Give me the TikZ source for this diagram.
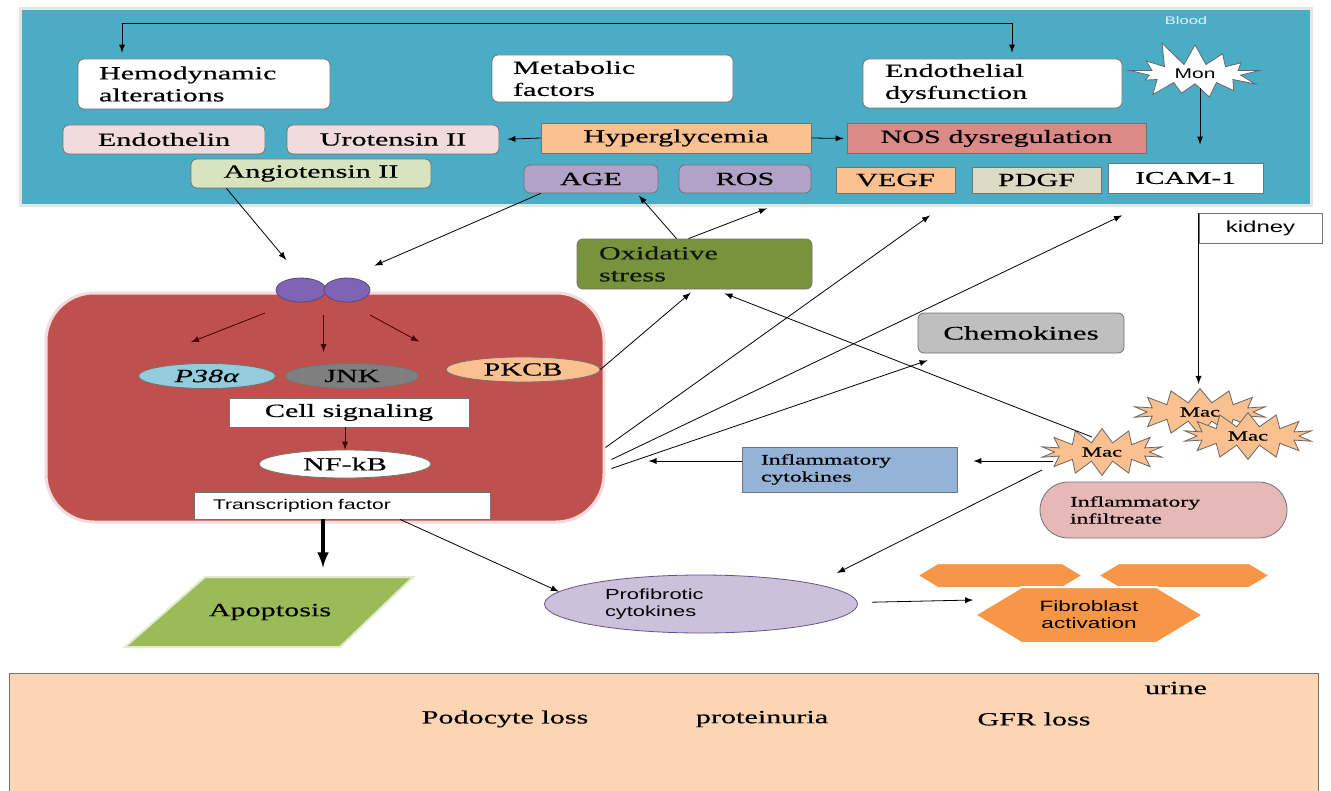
\documentclass[tikz,border=0pt]{standalone}
\usepackage{fontspec}
\setmainfont[FakeStretch=1.62, FakeBold=0.5]{Liberation Serif}
\setsansfont[FakeStretch=1.5]{Liberation Sans}
\usepackage{tikz}
\usetikzlibrary{arrows, shapes.geometric, shapes.symbols, calc, positioning}
\definecolor{bloodBlue}{HTML}{4BACC6}
\definecolor{cellRed}{HTML}{C0504D}
\definecolor{endoPink}{HTML}{F2DCDB}
\definecolor{paleOrange}{HTML}{FAC090}
\definecolor{nosRose}{HTML}{DA8A87}
\definecolor{angioGreen}{HTML}{D7E4BD}
\definecolor{agePurple}{HTML}{B3A2C7}
\definecolor{pdgfTan}{HTML}{DDD9C3}
\definecolor{recPurple}{HTML}{7F64B5}
\definecolor{p38Blue}{HTML}{93CDDD}
\definecolor{jnkGray}{HTML}{7F7F7F}
\definecolor{oxidGreen}{HTML}{77933C}
\definecolor{apopGreen}{HTML}{9BBB59}
\definecolor{chemoGray}{HTML}{BFBFBF}
\definecolor{cytoBlue}{HTML}{95B3D7}
\definecolor{infilPink}{HTML}{E6B9B8}
\definecolor{profLav}{HTML}{CCC1DA}
\definecolor{fibroOrange}{HTML}{F79646}
\definecolor{urinePeach}{HTML}{FCD5B5}
\tikzset{
    sz/.code 2 args={\pgfmathsetlengthmacro\szW{#1*0.5pt}\pgfmathsetlengthmacro\szH{#2*0.5pt}%
        \edef\szSet{\noexpand\pgfkeysalso{minimum width=\szW, minimum height=\szH}}\szSet},
    txt/.style={font=\fontsize{9.3}{11}\selectfont},
    smallTxt/.style={font=\fontsize{7.3}{8.5}\selectfont},
    roundBox/.style={rectangle, rounded corners=3pt, draw=black!55, fill=#1, inner sep=1pt, txt},
    flatBox/.style={rectangle, draw=black!55, fill=#1, inner sep=1pt, txt},
    enzyme/.style={ellipse, draw=black!55, fill=#1, inner sep=0pt, txt},
    macCell/.style={starburst, starburst points=14, starburst point height=7pt, random starburst=0, draw=black!60, fill=#1, inner sep=1pt, font=\fontsize{7}{8}\selectfont},
    hexBox/.style={signal, signal to=west and east, signal pointer angle=62, fill=fibroOrange, draw=white, line width=1pt, inner sep=0pt},
    apopShape/.style={fill=apopGreen, draw=white!70!apopGreen, line width=1pt},
    sigEdge/.style={->, >=latex, thin},
    cellEdge/.style={->, >=latex, thin, draw=black!75!red},
    thickEdge/.style={->, >=latex, line width=1.6pt},
}

\begin{document}
\begin{tikzpicture}[x=0.5pt, y=-0.5pt]

        \path[use as bounding box, fill=white] (0,0) rectangle (1331,791);

        % blood compartment
        \node[rectangle, draw=black!10, line width=1.5pt, fill=bloodBlue, sz={1291}{197}] (blood) at (665.5,107.5) {};
        \node[font=\sffamily\fontsize{5.5}{6}\selectfont, text=white!85!bloodBlue] (bloodLbl) at (1186,21) {Blood};

        \node[roundBox=white, sz={252}{50}, align=left, text width=105pt] (hemo) at (204,84) {Hemodynamic\\alterations};
        \node[roundBox=white, sz={241}{47}, align=left, text width=99.5pt] (metab) at (612.5,78.5) {Metabolic\\factors};
        \node[roundBox=white, sz={259}{49}, align=left, text width=107.5pt] (endo) at (992.5,83.5) {Endothelial\\dysfunction};
        \node[macCell=white, random starburst=11, starburst points=13, starburst point height=13pt, sz={144}{48}, font=\sffamily\fontsize{7}{8}\selectfont] (mon) at (1195,74) {Mon};

        \node[roundBox=endoPink, sz={202}{29}] (endothelin) at (164,139.5) {Endothelin};
        \node[roundBox=endoPink, sz={212}{29}] (uro) at (393,139.5) {Urotensin II};
        \node[flatBox=paleOrange, sz={270}{30}] (hyper) at (676,138) {Hyperglycemia};
        \node[flatBox=nosRose, sz={299}{30}] (nos) at (996.5,138.5) {NOS dysregulation};
        \node[roundBox=angioGreen, sz={240}{29}] (angio) at (311,173.5) {Angiotensin II};
        \node[roundBox=agePurple, sz={134}{28}] (age) at (591,179) {AGE};
        \node[roundBox=agePurple, sz={132}{28}] (ros) at (745,179) {ROS};
        \node[flatBox=paleOrange, sz={119}{26}] (vegf) at (895.5,180) {VEGF};
        \node[flatBox=pdgfTan, sz={129}{26}] (pdgf) at (1036.5,180) {PDGF};
        \node[flatBox=white, sz={155}{30}, font=\fontsize{9}{10}\selectfont] (icam) at (1185.5,178) {ICAM-1};

        \coordinate (topL) at (122,23);
        \coordinate (topR) at (1012,23);
        \coordinate (icamIn) at ([xshift=7.25pt]icam.north);
        \draw[sigEdge, <->, shorten <=3pt, shorten >=3pt] (hemo.north -| topL) -- (topL) -- (topR) -- (endo.north -| topR);
        \draw[sigEdge, shorten <=2pt, shorten >=9pt] (icamIn |- mon.south) -- (icamIn);
        \draw[sigEdge, shorten >=4pt] (hyper.west) -- (uro.east);
        \draw[sigEdge, shorten >=1.5pt] (hyper.east) -- (nos.west);

        % kidney and urine
        \node[flatBox=white, sz={123}{30}, font=\sffamily\fontsize{8}{9}\selectfont] (kidney) at (1260.5,228) {kidney};
        \node[rectangle, draw=black!55, fill=urinePeach, sz={1309}{130}] (urineZone) at (663.5,738) {};
        \node[txt] (urine) at (1176,688) {urine};
        \node[txt] (podo) at (505,719) {Podocyte loss};
        \node[txt] (prot) at (762,719) {proteinuria};
        \node[txt] (gfr) at (1034,719) {GFR loss};

        % the cell
        \node[rectangle, rounded corners=24pt, fill=cellRed, draw=endoPink, line width=1.5pt, sz={558}{229}] (cell) at (325,407.5) {};
        \node[ellipse, fill=recPurple, draw=recPurple!70!black, sz={50}{24}] (rec1) at (301,290) {};
        \node[ellipse, fill=recPurple, draw=recPurple!70!black, sz={46}{24}] (rec2) at (347,290) {};
        \node[enzyme=p38Blue, sz={137}{25}] (p38) at (207,376) {\textit{P38α}};
        \node[enzyme=jnkGray, sz={133}{25}] (jnk) at (352,376) {JNK};
        \node[enzyme=paleOrange, sz={154}{25}] (pkc) at (523,369.5) {PKCB};
        \node[flatBox=white, sz={240}{29}] (sig) at (349,412.5) {Cell signaling};
        \node[enzyme=white, sz={172}{28}] (nfkb) at (345,464) {NF-kB};
        \node[flatBox=white, sz={296}{27}, align=left, text width=129pt, font=\sffamily\fontsize{7}{8}\selectfont] (tf) at (342,505.5) {Transcription factor};

        \draw[sigEdge, shorten >=11.5pt] (angio.190) -- (rec1.north);
        \draw[sigEdge, shorten >=15pt] (age.196) -- (rec2.north);
        \draw[cellEdge] ([shift={(-36,23)}]rec1.center) -- ([shift={(-16,-21)}]p38.north);
        \draw[cellEdge] ([shift={(0,25)}]rec2.west) -- ([shift={(0,62)}]rec2.west);
        \draw[cellEdge] ([shift={(23,25)}]rec2.center) -- ([shift={(67,-21.5)}]jnk.north);
        \draw[cellEdge] (sig.south -| nfkb.north) -- (nfkb.north);

        % outside the cell
        \draw[apopShape] (125,647) -- (340,647) -- (413,577) -- (205,577) -- cycle;
        \node[txt, sz={208}{70}] (apop) at (270,612) {Apoptosis};
        \node[roundBox=oxidGreen, sz={235}{50}, align=left, text width=95.5pt, text=black!85!oxidGreen] (oxid) at (694.5,264) {Oxidative\\stress};
        \node[roundBox=chemoGray, sz={206}{40}, font=\fontsize{9.6}{11}\selectfont] (chemo) at (1021,333) {Chemokines};
        \node[flatBox=cytoBlue, sz={215}{45}, align=left, text width=88.5pt, smallTxt] (infc) at (849.5,469.5) {Inflammatory\\cytokines};
        \node[macCell=paleOrange, sz={134}{41}] (mac2) at (1200,412) {Mac};
        \node[macCell=paleOrange, sz={130}{43}] (mac3) at (1248,436) {Mac};
        \node[macCell=paleOrange, sz={123}{45}] (mac1) at (1102,452) {Mac};
        \node[rectangle, rounded corners=14pt, draw=black!55, fill=infilPink, sz={247}{56}, align=left, text width=93.5pt, smallTxt] (infil) at (1163.5,510) {Inflammatory\\infiltreate};
        \node[enzyme=profLav, draw=recPurple!80!black, sz={313}{58}, align=left, text width=96pt, font=\sffamily\fontsize{7.3}{8.5}\selectfont] (prof) at (701,604) {Profibrotic\\cytokines};
        \node[hexBox, sz={166}{25}] (fib1) at (1000,575.5) {};
        \node[hexBox, sz={172}{25}] (fib2) at (1184,575.5) {};
        \node[hexBox, sz={228}{56}, align=center, font=\sffamily\fontsize{7.5}{8.5}\selectfont] (fib3) at (1089,615) {Fibroblast\\activation};

        \coordinate (tfOut) at ([xshift=-9.5pt]tf.south);
        \coordinate (cytoR) at ([yshift=4.25pt]infc.east);
        \coordinate (cytoL) at ([yshift=4.25pt]infc.west);
        \draw[thickEdge, shorten >=4.5pt] (tfOut) -- (tfOut |- apop.north);
        \draw[sigEdge] ([xshift=29pt]tf.south) -- (prof.175);
        \draw[sigEdge, shorten >=2.5pt] (pkc.east) -- (oxid.south);
        \draw[sigEdge, shorten >=1.5pt] ([xshift=-9pt]oxid.north) -- ([xshift=23pt]age.south);
        \draw[sigEdge] ([xshift=-3pt]oxid.north) -- ([shift={(22,15)}]ros.south);
        \draw[sigEdge] ([shift={(0,40)}]cell.east) -- ([shift={(34.5,22)}]vegf.south);
        \draw[sigEdge] ([shift={(6,52)}]cell.east) -- ([shift={(-63.5,22)}]icam.south);
        \draw[sigEdge] ([shift={(6,61)}]cell.east) -- ([shift={(10,7)}]chemo.south west);
        \draw[sigEdge] ([shift={(-10,-15)}]mac1.center) -- ([shift={(30,4)}]oxid.south);
        \draw[sigEdge, shorten <=24.5pt, shorten >=8pt] (cytoR -| mac1.center) -- (cytoR);
        \draw[sigEdge, shorten >=21.5pt] (cytoL) -- (cytoL -| cell.east);
        \draw[sigEdge] ([shift={(-60,18)}]mac1.center) -- ([shift={(136,-31)}]prof.center);
        \draw[sigEdge, shorten <=7pt] ([yshift=0.75pt]prof.east) -- ([yshift=7.5pt]fib3.west);
        \draw[sigEdge, shorten >=2pt] (kidney.north west) -- (kidney.north west |- mac2.north);

    \end{tikzpicture}
\end{document}
